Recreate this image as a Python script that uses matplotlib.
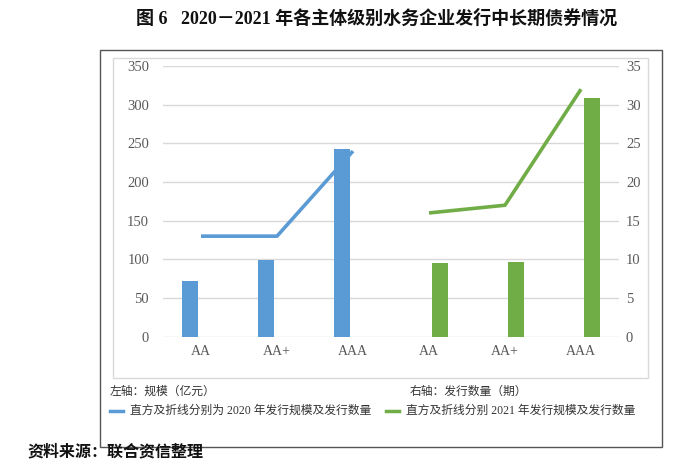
import matplotlib
matplotlib.use("Agg")
import matplotlib.pyplot as plt
from matplotlib.patches import Rectangle
from matplotlib.lines import Line2D
import numpy as np

categories = ['AA', 'AA+', 'AAA', 'AA', 'AA+', 'AAA']
scale_2020 = [72, 99, 243]      # 亿元, left axis
count_2020 = [13, 13, 24]       # 期, right axis
scale_2021 = [95, 97, 308]
count_2021 = [16, 17, 32]

left_ticks = [0, 50, 100, 150, 200, 250, 300, 350]
right_ticks = [0, 5, 10, 15, 20, 25, 30, 35]

BLUE = '#5B9BD5'
GREEN = '#70AD47'
TICK_COLOR = '#595959'
CJK = ['Liberation Serif', 'Noto Sans CJK SC', 'DejaVu Sans']

W, H = 697, 472
fig = plt.figure(figsize=(W / 100, H / 100), dpi=100)

def fx(px):
    return px / W

def fy(py):
    return 1 - py / H

# outer and inner boxes
fig.patches.append(Rectangle((fx(100), fy(447)), fx(662) - fx(100), fy(50) - fy(447),
                             transform=fig.transFigure, fill=False, edgecolor='#555555', lw=1.0))
fig.patches.append(Rectangle((fx(113), fy(378)), fx(648) - fx(113), fy(58) - fy(378),
                             transform=fig.transFigure, fill=False, edgecolor='#d9d9d9', lw=1.0))

ax = fig.add_axes([fx(163), fy(336.7), fx(619) - fx(163), fy(66) - fy(336.7)])
ax2 = ax.twinx()

x = np.arange(len(categories))
x2020 = x[:3]
x2021 = x[3:]
bw = 0.215
off = 0.145

ax.bar(x2020 - off, scale_2020, width=bw, color=BLUE, zorder=3)
ax.bar(x2021 + off, scale_2021, width=bw, color=GREEN, zorder=3)
ax2.plot(x2020, count_2020, color=BLUE, lw=2.6, solid_capstyle='butt', zorder=4)
ax2.plot(x2021, count_2021, color=GREEN, lw=2.6, solid_capstyle='butt', zorder=4)

ax.set_xlim(-0.5, 5.5)
ax.set_ylim(0, 350)
ax2.set_ylim(0, 35)
ax.set_yticks(left_ticks)
ax2.set_yticks(right_ticks)
ax.set_xticks(x)
ax.set_xticklabels(categories)

for a in (ax, ax2):
    for s in a.spines.values():
        s.set_visible(False)
    a.tick_params(length=0, labelsize=10.5, labelcolor=TICK_COLOR)
    for lab in a.get_yticklabels() + a.get_xticklabels():
        lab.set_fontfamily('Liberation Serif')
ax.tick_params(axis='x', labelsize=10)
ax.tick_params(axis='y', pad=10)
ax2.tick_params(axis='y', pad=5)
ax.tick_params(axis='x', pad=6)
ax.grid(axis='y', color='#d9d9d9', lw=1.0, zorder=0)
ax.set_axisbelow(True)
ax.patch.set_visible(False)

# title
fig.text(fx(377), fy(19), '图 6   2020－2021 年各主体级别水务企业发行中长期债券情况',
         ha='center', va='center', fontsize=13, fontweight='bold', family=CJK, color='#111111')

# axis notes
fig.text(fx(110), fy(392), '左轴：规模（亿元）', ha='left', va='center', fontsize=8.5,
         family=CJK, color='#333333')
fig.text(fx(410), fy(392), '右轴：发行数量（期）', ha='left', va='center', fontsize=8.5,
         family=CJK, color='#333333')

# legend
fig.lines.append(Line2D([fx(110), fx(123)], [fy(411), fy(411)], transform=fig.transFigure,
                        color=BLUE, lw=2.5))
fig.text(fx(130), fy(411), '直方及折线分别为 2020 年发行规模及发行数量', ha='left', va='center',
         fontsize=8.5, family=CJK, color='#333333')
fig.lines.append(Line2D([fx(386), fx(399)], [fy(411), fy(411)], transform=fig.transFigure,
                        color=GREEN, lw=2.5))
fig.text(fx(406), fy(411), '直方及折线分别 2021 年发行规模及发行数量', ha='left', va='center',
         fontsize=8.5, family=CJK, color='#333333')

# source
fig.text(fx(27), fy(452), '资料来源：联合资信整理', ha='left', va='center', fontsize=11.5,
         family=CJK, color='#111111', fontweight='bold')

fig.savefig('out.png', dpi=100)
